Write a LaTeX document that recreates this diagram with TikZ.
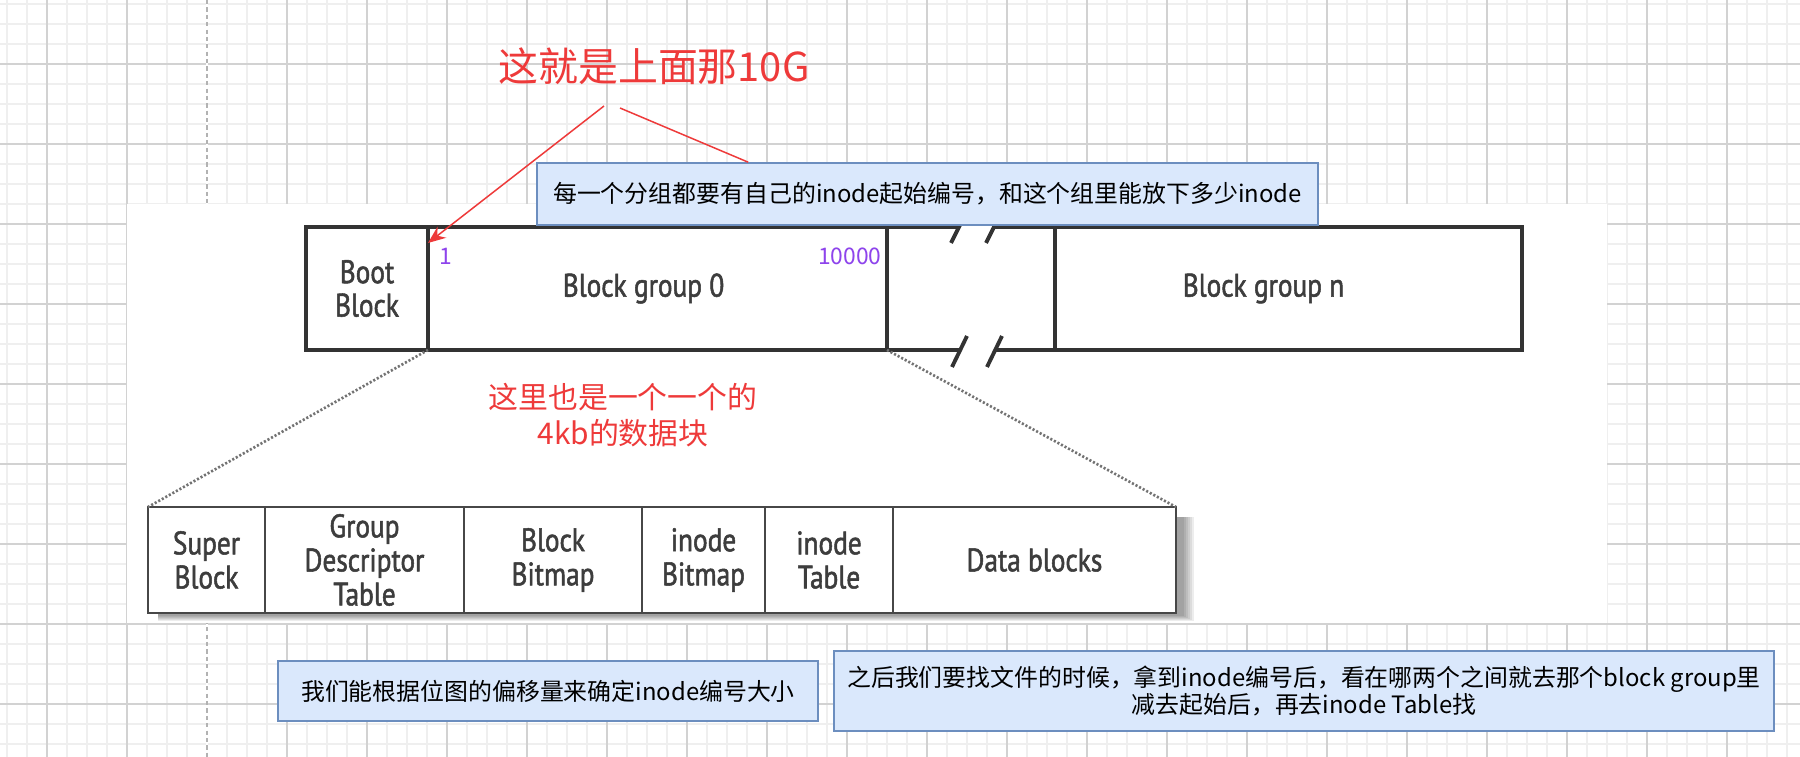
\documentclass[tikz,border=0pt]{standalone}
\usepackage{fontspec}
\setmainfont{Noto Sans CJK SC}
\newfontfamily\figfont[FakeStretch=0.84,FakeBold=1.6]{PT Sans}
\usepackage{xcolor}
\usepackage{tikz}
\usetikzlibrary{arrows.meta,positioning,calc,backgrounds}
\newcommand{\pxu}{0.02cm}
\definecolor{notefill}{HTML}{DAE8FC}
\definecolor{noteedge}{HTML}{6C8EBF}
\definecolor{hlred}{HTML}{EE3A3A}
\definecolor{numpurple}{HTML}{8E44EC}
\definecolor{gridmajor}{HTML}{D2D2D2}
\definecolor{gridminor}{HTML}{EFEFEF}
\tikzset{
  gminor/.style={draw=gridminor, line width=1.1pt},
  gmajor/.style={draw=gridmajor, line width=0.6pt},
  pgbreak/.style={draw=black!30, line width=0.8pt, dash pattern=on 2.4pt off 1.8pt},
  topcell/.style={draw=black!80, line width=2.2pt, minimum height=123*\pxu, inner sep=0pt, outer sep=0pt, fill=white, align=center, font=\figfont\fontsize{18.5}{19}\selectfont, text=black!76},
  lowcell/.style={draw=black!72, line width=1.6pt, minimum height=106*\pxu, inner sep=0pt, outer sep=0pt, fill=white, align=center, font=\figfont\fontsize{18.5}{19.4}\selectfont, text=black!76},
  figlbl/.style={inner sep=0pt, font=\figfont\fontsize{18.5}{19}\selectfont, text=black!76},
  barln/.style={draw=black!80, line width=2.2pt},
  slashln/.style={draw=black!80, line width=2.2pt},
  dotline/.style={draw=black!55, line width=1.5pt, dash pattern=on 1.2pt off 1.1pt},
  cmtbox/.style={draw=noteedge, line width=0.9pt, fill=notefill, align=center, inner sep=2pt, font=\fontsize{13.6}{15.9}\selectfont},
  numtxt/.style={text=numpurple, inner sep=0pt, font=\fontsize{13}{14}\selectfont},
  ttltxt/.style={text=hlred, inner sep=0pt, font=\fontsize{22.7}{26}\selectfont},
  redtxt/.style={text=hlred, inner sep=0pt, align=center, font=\fontsize{17}{20.4}\selectfont},
  redarrow/.style={draw=hlred, line width=0.85pt, -{Stealth[length=10pt,width=8pt]}},
  redline/.style={draw=hlred, line width=0.85pt}
}

\begin{document}
\begin{tikzpicture}[x=0.02cm,y=-0.02cm]
\useasboundingbox (0,0) rectangle (1800,757);

\node[lowcell, minimum width=117*\pxu] (super) at (206.5,560) {Super\\Block};
\node[lowcell, minimum width=199*\pxu, right=0pt of super] (gdt) {Group\\Descriptor\\Table};
\node[lowcell, minimum width=178*\pxu, right=0pt of gdt] (bbm) {Block\\Bitmap};
\node[lowcell, minimum width=123*\pxu, right=0pt of bbm] (ibm) {inode\\Bitmap};
\node[lowcell, minimum width=128*\pxu, right=0pt of ibm] (itab) {inode\\Table};
\node[lowcell, minimum width=283*\pxu, right=0pt of itab] (data) {Data blocks};

\begin{scope}[on background layer]
\fill[white] (0,0) rectangle (1800,757);
\foreach \gx in {7,27,...,1800} \draw[gminor] (\gx,0) -- (\gx,757);
\foreach \gy in {4,24,...,757} \draw[gminor] (0,\gy) -- (1800,\gy);
\foreach \gx in {47,127,...,1800} \draw[gmajor] (\gx,0) -- (\gx,757);
\foreach \gy in {64,144,...,757} \draw[gmajor] (0,\gy) -- (1800,\gy);
\draw[white, line width=1pt] (207,0) -- (207,757);
\draw[pgbreak] (207,0) -- (207,757);
\fill[white] (127,204) rectangle (1607,623);
\foreach \k in {0,2,...,10}
  \fill[black, opacity=0.07] ($(super.north west)+(10,10)$) rectangle ($(data.south east)+(8+\k,3+\k/2)$);
\end{scope}

\node[topcell, minimum width=122*\pxu] (boot) at (367,288.5) {Boot\\Block};
\node[topcell, minimum width=459*\pxu, right=0pt of boot, label={[figlbl, xshift=-14*\pxu]center:Block group 0}] (bg0) {};
\node[topcell, minimum width=467*\pxu, label={[figlbl, xshift=-25*\pxu]center:Block group n}] (bgn) at (1288.5,288.5) {};

\draw[barln] (bg0.north east) -- ++(72,0);
\draw[barln] (bgn.north west) -- ++(-61,0);
\draw[barln] (bg0.south east) -- ++(73,0);
\draw[barln] (bgn.south west) -- ++(-60,0);
\foreach \sx in {959,994} {
  \draw[slashln] (\sx-8,243) -- (\sx+8,211);
  \draw[slashln] (\sx-7,367) -- (\sx+8,336);
}

\draw[dotline] (boot.south east) -- (super.north west);
\draw[dotline] (bg0.south east) -- (data.north east);

\node[numtxt, anchor=west] (first) at (439,256) {1};
\node[numtxt, anchor=east] (last) at (882,256) {10000};

\node[ttltxt] (ttl) at (654,66) {这就是上面那10G};
\node[redtxt] (inner) at (623,415) {这里也是一个一个的\\4kb的数据块};

\node[cmtbox, minimum width=781*\pxu, minimum height=62*\pxu] (note1) at (927.5,194) {每一个分组都要有自己的inode起始编号，和这个组里能放下多少inode};
\node[cmtbox, minimum width=540*\pxu, minimum height=60*\pxu] (note2) at (548,691) {我们能根据位图的偏移量来确定inode编号大小};
\node[cmtbox, minimum width=940*\pxu, minimum height=80*\pxu] (note3) at (1304,691) {之后我们要找文件的时候，拿到inode编号后，看在哪两个之间就去那个block group里\\减去起始后，再去inode Table找};

\coordinate (ts1) at (604,106);
\coordinate (ts2) at (620,108);
\draw[redarrow] (ts1) -- ($(boot.north east)+(0,16)$);
\draw[redline] (ts2) -- ($(note1.north west)+(212,0)$);
\end{tikzpicture}
\end{document}
